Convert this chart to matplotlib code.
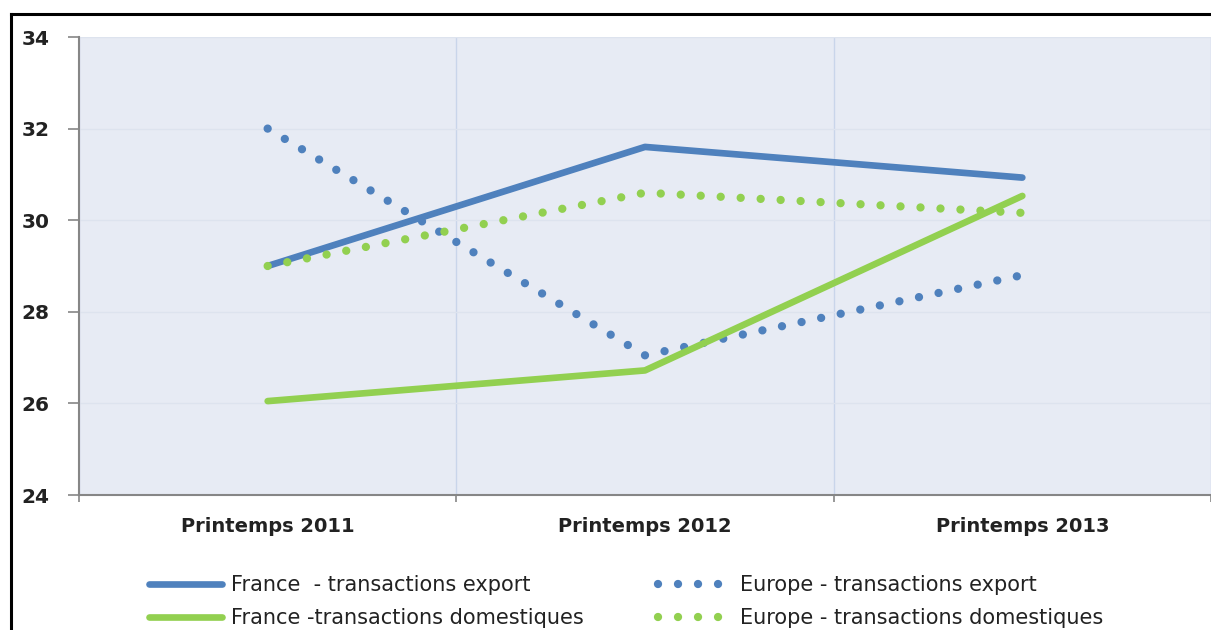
import matplotlib
matplotlib.use("Agg")
import matplotlib.pyplot as plt
from matplotlib.lines import Line2D

categories = ["Printemps 2011", "Printemps 2012", "Printemps 2013"]
france_export = [29.0, 31.6, 30.93]
europe_export = [32.0, 27.05, 28.8]
france_dom = [26.05, 26.72, 30.53]
europe_dom = [29.0, 30.6, 30.16]
labels = ["France  - transactions export", "Europe - transactions export",
          "France -transactions domestiques", "Europe - transactions domestiques"]
yticks = [24, 26, 28, 30, 32, 34]

BLUE = "#4F81BD"
GREEN = "#92D050"

plt.rcParams['font.family'] = ['DejaVu Sans']

fig = plt.figure(figsize=(12.11, 6.30), dpi=100)
ax = fig.add_axes([79/1211, 1-495/630, 1-79/1211, (495-37)/630])
ax.set_facecolor("#E7EBF4")

x = list(range(len(categories)))
dot = (0, (0.001, 2.4))
l1, = ax.plot(x, france_export, color=BLUE, lw=4.8, solid_capstyle='round')
l2, = ax.plot(x, europe_export, color=BLUE, lw=6, linestyle=dot, dash_capstyle='round')
l3, = ax.plot(x, france_dom, color=GREEN, lw=4.8, solid_capstyle='round')
l4, = ax.plot(x, europe_dom, color=GREEN, lw=6, linestyle=dot, dash_capstyle='round')

ax.set_xlim(-0.5, 2.5)
ax.set_ylim(24, 34)
ax.set_yticks(yticks)
ax.set_yticklabels([str(v) for v in yticks], fontsize=14.5, fontweight='bold', color="#222222")
ax.set_xticks([-0.5, 0.5, 1.5, 2.5])
ax.set_xticklabels([])
ax.set_xticks(x, minor=True)
ax.set_xticklabels(categories, minor=True, fontsize=14, fontweight='bold', color="#222222")
ax.tick_params(axis='x', which='minor', length=0, pad=16)
ax.tick_params(axis='x', which='major', length=5, color="#868686", width=1.2)
ax.tick_params(axis='y', length=8, color="#868686", width=1.2, pad=13)

ax.grid(axis='y', color="#DDE3EE", lw=1)
ax.grid(axis='x', which='major', color="#C9D5EA", lw=1)
ax.set_axisbelow(True)
for s in ['top', 'right']:
    ax.spines[s].set_visible(False)
for s in ['left', 'bottom']:
    ax.spines[s].set_color("#868686")
    ax.spines[s].set_linewidth(1.5)

fig.add_artist(Line2D([11/1211, 1], [1-14/630, 1-14/630], color='black', lw=2.2, transform=fig.transFigure))
fig.add_artist(Line2D([11/1211, 11/1211], [0, 1-14/630], color='black', lw=2.2, transform=fig.transFigure))

common = dict(loc='upper left', frameon=False, fontsize=15, handlelength=3.5,
              handletextpad=0.45, labelspacing=0.62, borderpad=0, borderaxespad=0)
leg1 = fig.legend([l1, l3], [labels[0], labels[2]], bbox_to_anchor=(149/1211, 1-575/630), **common)
leg2 = fig.legend([l2, l4], [labels[1], labels[3]], bbox_to_anchor=(658/1211, 1-575/630), **common)
for leg in (leg1, leg2):
    for t in leg.get_texts():
        t.set_color("#222222")

fig.savefig("out.png", dpi=100)
